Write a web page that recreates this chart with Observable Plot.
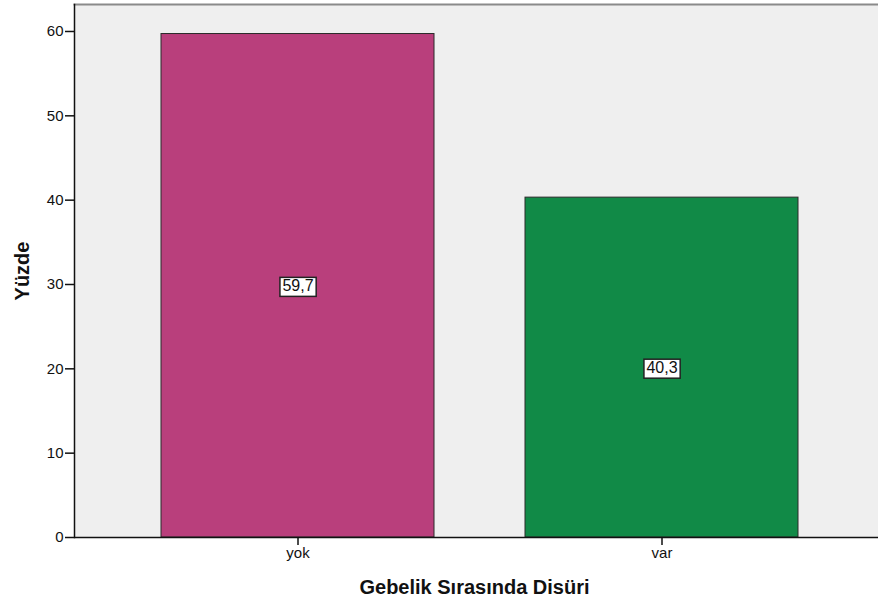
<!DOCTYPE html>
<html>
<head>
<meta charset="utf-8">
<script src="https://cdn.jsdelivr.net/npm/d3@7"></script>
<script src="https://cdn.jsdelivr.net/npm/@observablehq/plot@0.6"></script>
<style>
  body { margin: 0; background: #fff; }
</style>
</head>
<body>
<div id="chart"></div>
<script>
// Percentages of disuria during pregnancy
const categories = ["yok", "var"];
const percents = [59.7, 40.3];
const barColors = ["#b93f7c", "#118a47"];
const yTicks = [0, 10, 20, 30, 40, 50, 60];
const xTitle = "Gebelik Sırasında Disüri";
const yTitle = "Yüzde";
const yMax = 63.2;

const rows = categories.map((c, i) => ({category: c, percent: percents[i], color: barColors[i]}));

// Turkish decimal comma
const trFormat = d3.formatLocale({decimal: ",", thousands: ".", grouping: [3], currency: ["", " ₺"]}).format(".1f");
const labelTexts = rows.map(d => trFormat(d.percent));

const chart = Plot.plot({
  width: 878,
  height: 605,
  marginLeft: 74,
  marginRight: 0,
  marginTop: 4,
  marginBottom: 68,
  style: {fontFamily: "'Liberation Sans', Arial, sans-serif", background: "#fff", color: "#111"},
  x: {domain: categories, paddingInner: 0.251, paddingOuter: 0.228, align: 0.52, label: null},
  y: {domain: [0, yMax], label: null},
  marks: [
    Plot.frame({fill: "#efefef", stroke: null}),
    Plot.frame({anchor: "top", stroke: "#8a8a8a", strokeWidth: 2}),
    Plot.barY(rows, {x: "category", y: "percent", fill: "color", stroke: "#2b2b2b", strokeWidth: 1}),
    Plot.frame({anchor: "left", stroke: "#111", strokeWidth: 1.5}),
    Plot.ruleY([0], {stroke: "#111", strokeWidth: 1.5}),
    Plot.axisY({ticks: yTicks, tickSize: 9, tickPadding: 2, fontSize: 15, label: null, color: "#111", strokeWidth: 1.5}),
    Plot.axisX({tickSize: 8, tickPadding: 2, fontSize: 15, label: null, color: "#111", strokeWidth: 1.5}),
    Plot.text(rows, {
      x: "category",
      y: d => d.percent / 2,
      text: d => trFormat(d.percent),
      fontSize: 16,
      fill: "#111"
    }),
    Plot.text([yTitle], {text: d => d, frameAnchor: "left", textAnchor: "middle", lineAnchor: "middle", dx: -52, rotate: -90, fontSize: 20, fontWeight: "bold", fill: "#111"}),
    Plot.text([xTitle], {text: d => d, frameAnchor: "bottom", textAnchor: "middle", lineAnchor: "middle", dy: 50, dx: -2, fontSize: 20, fontWeight: "bold", fill: "#111"})
  ]
});

document.getElementById("chart").append(chart);

// White boxes behind the value labels
chart.querySelectorAll("text").forEach(t => {
  if (!labelTexts.includes(t.textContent)) return;
  const b = t.getBBox();
  const r = document.createElementNS("http://www.w3.org/2000/svg", "rect");
  r.setAttribute("x", b.x - 2.5);
  r.setAttribute("y", b.y + 0.5);
  r.setAttribute("width", b.width + 5);
  r.setAttribute("height", b.height + 2);
  r.setAttribute("fill", "#fff");
  r.setAttribute("stroke", "#222");
  r.setAttribute("stroke-width", 1.5);
  if (t.getAttribute("transform")) r.setAttribute("transform", t.getAttribute("transform"));
  t.parentNode.insertBefore(r, t);
});
</script>
</body>
</html>
